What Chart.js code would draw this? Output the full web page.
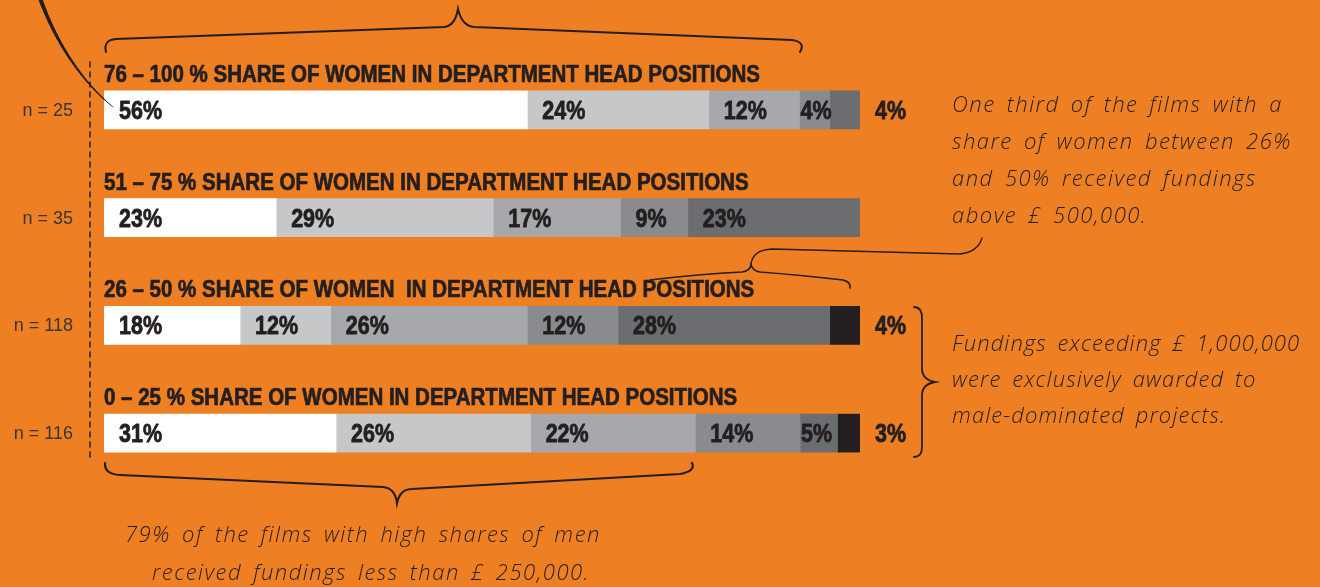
<!DOCTYPE html>
<html>
<head>
<meta charset="utf-8">
<script src="https://cdn.jsdelivr.net/npm/chart.js@4"></script>
<style>
  html, body { margin: 0; padding: 0; background: #ee7f22; }
  #wrap { position: relative; width: 1320px; height: 587px; overflow: hidden; }
  canvas { position: absolute; left: 0; top: 0; }
  .note {
    position: absolute;
    font-family: "Open Sans", "DejaVu Sans", sans-serif;
    font-style: italic;
    font-weight: 300;
    font-size: 22px;
    line-height: 37px;
    letter-spacing: 1.5px;
    word-spacing: 4px;
    color: #231f20;
    white-space: nowrap;
  }
</style>
</head>
<body>
<div id="wrap">
  <canvas id="chart" width="1320" height="587"></canvas>
  <div class="note" style="left:952px; top:85px;">One third of the films with a<br>share of women between 26%<br>and 50% received fundings<br>above £ 500,000.</div>
  <div class="note" style="left:952px; top:324px; line-height:36px; letter-spacing:1.1px;">Fundings exceeding £ 1,000,000<br>were exclusively awarded to<br>male-dominated projects.</div>
  <div class="note" style="left:125px; top:515px;">79% of the films with high shares of men</div>
  <div class="note" style="left:152px; top:553px;">received fundings less than £ 250,000.</div>
</div>
<script>
// Gruppen (Anteil Frauen in Department-Head-Positionen) und Stichprobengröße
const shareGroups = [
  '76 – 100 % SHARE OF WOMEN IN DEPARTMENT HEAD POSITIONS',
  '51 – 75 % SHARE OF WOMEN IN DEPARTMENT HEAD POSITIONS',
  '26 – 50 % SHARE OF WOMEN  IN DEPARTMENT HEAD POSITIONS',
  '0 – 25 % SHARE OF WOMEN IN DEPARTMENT HEAD POSITIONS'
];
const sampleSizes = [25, 35, 118, 116];

// Förderhöhe in Bändern (Prozent der Filme je Gruppe)
const bandNames = ['band 1', 'band 2', 'band 3', '£ 250,000 – 500,000', '£ 500,000 – 1,000,000', 'over £ 1,000,000'];
const band1 = [56, 23, 18, 31];
const band2 = [24, 29, 12, 26];
const band3 = [12, 17, 26, 22];
const band4 = [4, 9, 12, 14];
const band5 = [4, 23, 28, 5];
const band6 = [0, 0, 4, 3];
const bands = [band1, band2, band3, band4, band5, band6];
const bandColors = ['#ffffff', '#c6c7c9', '#a7a8ab', '#8a8b8e', '#6c6d70', '#231f20'];

const ink = '#231f20';

// Zeilensummen (teils 101 %) -> Balken auf volle Breite normieren
const rowSums = shareGroups.map((_, i) => bands.reduce((s, b) => s + b[i], 0));

const datasets = bands.map((vals, d) => ({
  label: bandNames[d],
  data: vals.map((v, i) => v / rowSums[i] * 100),
  backgroundColor: bandColors[d],
  borderWidth: 0,
  barThickness: 38
}));

// Text mit horizontaler Stauchung (Condensed-Look), leicht verstärkt
function squeezedText(ctx, text, x, y, sx, bold) {
  ctx.save();
  ctx.translate(x, y);
  ctx.scale(sx, 1);
  ctx.fillText(text, 0, 0);
  if (bold) {
    ctx.lineWidth = bold;
    ctx.lineJoin = 'round';
    ctx.strokeText(text, 0, 0);
  }
  ctx.restore();
}

function taperedCurve(ctx, p0, p1, p2, p3, w0, w1) {
  const n = 40;
  let prev = p0;
  for (let k = 1; k <= n; k++) {
    const t = k / n, u = 1 - t;
    const pt = [
      u*u*u*p0[0] + 3*u*u*t*p1[0] + 3*u*t*t*p2[0] + t*t*t*p3[0],
      u*u*u*p0[1] + 3*u*u*t*p1[1] + 3*u*t*t*p2[1] + t*t*t*p3[1]
    ];
    ctx.beginPath();
    ctx.lineWidth = w0 + (w1 - w0) * t;
    ctx.moveTo(prev[0], prev[1]);
    ctx.lineTo(pt[0], pt[1]);
    ctx.stroke();
    prev = pt;
  }
}

const decorPlugin = {
  id: 'decor',
  afterDatasetsDraw(chart) {
    const ctx = chart.ctx;
    const area = chart.chartArea;
    ctx.save();
    ctx.fillStyle = ink;
    ctx.strokeStyle = ink;
    ctx.lineCap = 'round';

    ctx.font = 'bold 23px "Liberation Sans", Arial, sans-serif';
    const titleScale = 656 / ctx.measureText(shareGroups[0]).width;

    shareGroups.forEach((title, i) => {
      const ref = chart.getDatasetMeta(0).data[i];
      const top = ref.y - ref.height / 2;

      // Gruppentitel
      ctx.font = 'bold 23px "Liberation Sans", Arial, sans-serif';
      ctx.textAlign = 'left';
      ctx.textBaseline = 'alphabetic';
      squeezedText(ctx, title, area.left, top - 9, titleScale, 0.7);

      // n = ...
      ctx.font = '18px "Liberation Sans", Arial, sans-serif';
      ctx.fillStyle = '#3a3536';
      ctx.textAlign = 'right';
      ctx.textBaseline = 'middle';
      ctx.fillText('n = ' + sampleSizes[i], 73, ref.y + 1);
      ctx.fillStyle = ink;

      // Segmentbeschriftungen
      let lastIdx = -1;
      bands.forEach((b, d) => { if (b[i] > 0) lastIdx = d; });
      ctx.font = 'bold 25px "Liberation Sans", Arial, sans-serif';
      ctx.textAlign = 'left';
      ctx.textBaseline = 'middle';
      bands.forEach((b, d) => {
        if (!b[i]) return;
        const el = chart.getDatasetMeta(d).data[i];
        const left = Math.min(el.base, el.x);
        const w = Math.abs(el.x - el.base);
        let tx;
        if (d === lastIdx && w < 35) tx = area.right + 15;
        else tx = left + (w < 45 ? 1 : 15);
        squeezedText(ctx, b[i] + '%', tx, ref.y + 2, 0.86, 0.8);
      });
    });

    // gestrichelte Linie
    ctx.beginPath();
    ctx.setLineDash([5, 5]);
    ctx.lineWidth = 1.5;
    ctx.moveTo(90, 62);
    ctx.lineTo(90, 460);
    ctx.stroke();
    ctx.setLineDash([]);

    // Bogen oben links zum 56%-Wert
    taperedCurve(ctx, [40, -2], [55, 40], [80, 80], [113, 107], 4, 0.8);

    // Klammer oben
    ctx.lineWidth = 2;
    ctx.beginPath();
    ctx.moveTo(106, 52);
    ctx.quadraticCurveTo(103, 40, 116, 39);
    ctx.lineTo(444, 27);
    ctx.quadraticCurveTo(455, 26, 458, 9);
    ctx.quadraticCurveTo(462, 26, 474, 27);
    ctx.lineTo(792, 40);
    ctx.quadraticCurveTo(806, 42, 800, 52);
    ctx.stroke();

    // Klammer über 26–50 % mit Verbindung zur Notiz
    ctx.lineWidth = 1.6;
    ctx.beginPath();
    ctx.moveTo(650, 280);
    ctx.quadraticCurveTo(700, 274, 742, 272);
    ctx.quadraticCurveTo(750, 271, 751, 265);
    ctx.quadraticCurveTo(753, 271, 760, 272);
    ctx.quadraticCurveTo(800, 275, 843, 280);
    ctx.quadraticCurveTo(851, 282, 850, 288);
    ctx.stroke();
    ctx.lineWidth = 1.3;
    ctx.beginPath();
    ctx.moveTo(751, 265);
    ctx.quadraticCurveTo(752, 250, 772, 249);
    ctx.lineTo(960, 254);
    ctx.quadraticCurveTo(978, 252, 982, 238);
    ctx.stroke();

    // Klammer rechts (Zeilen 3 und 4)
    ctx.lineWidth = 1.8;
    ctx.beginPath();
    ctx.moveTo(914, 307);
    ctx.quadraticCurveTo(922, 307, 922, 318);
    ctx.lineTo(922, 370);
    ctx.quadraticCurveTo(923, 380, 935, 382);
    ctx.quadraticCurveTo(923, 384, 922, 394);
    ctx.lineTo(922, 447);
    ctx.quadraticCurveTo(922, 457, 914, 457);
    ctx.stroke();

    // Klammer unten
    ctx.lineWidth = 2.2;
    ctx.beginPath();
    ctx.moveTo(105, 463);
    ctx.quadraticCurveTo(104, 474, 120, 475);
    ctx.lineTo(383, 487);
    ctx.quadraticCurveTo(395, 488, 397, 503);
    ctx.quadraticCurveTo(400, 489, 412, 489);
    ctx.lineTo(680, 474);
    ctx.quadraticCurveTo(696, 471, 692, 463);
    ctx.stroke();

    ctx.restore();
  }
};

const ctx = document.getElementById('chart').getContext('2d');
const chart = new Chart(ctx, {
  type: 'bar',
  data: { labels: shareGroups, datasets: datasets },
  options: {
    indexAxis: 'y',
    responsive: false,
    animation: false,
    devicePixelRatio: 1,
    layout: { padding: { left: 104, right: 460, top: 56, bottom: 100 } },
    plugins: { legend: { display: false }, tooltip: { enabled: false } },
    scales: {
      x: { stacked: true, min: 0, max: 100, display: false },
      y: { stacked: true, display: false }
    }
  },
  plugins: [decorPlugin]
});
</script>
</body>
</html>
